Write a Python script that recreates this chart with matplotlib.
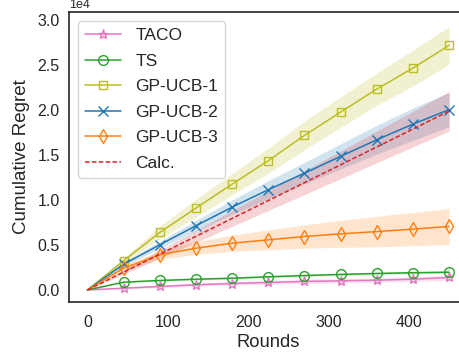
import matplotlib
matplotlib.use("Agg")
import matplotlib.pyplot as plt
import numpy as np
import seaborn as sns

sns.set_style("white")
plt.rcParams["font.family"] = ["Liberation Sans", "DejaVu Sans"]

rounds = [0, 45, 90, 135, 180, 225, 270, 315, 360, 405, 450]

taco = [0, 200, 390, 580, 720, 840, 950, 1020, 1090, 1200, 1390]
taco_sd = [0, 100, 150, 180, 200, 220, 240, 250, 270, 280, 300]

ts = [0, 870, 1060, 1200, 1310, 1470, 1610, 1730, 1840, 1920, 1980]
ts_sd = [0, 60, 80, 90, 100, 110, 110, 120, 120, 130, 130]

ucb1 = [0, 3250, 6400, 9110, 11780, 14390, 17200, 19800, 22360, 24700, 27230]
ucb1_sd = [0, 300, 700, 1000, 1200, 1400, 1600, 1700, 1800, 2000, 2100]

ucb2 = [0, 2870, 5030, 7150, 9220, 11160, 13000, 14870, 16720, 18460, 20070]
ucb2_sd = [0, 200, 400, 600, 800, 1000, 1200, 1400, 1600, 1800, 1900]

ucb3 = [0, 2430, 3920, 4650, 5210, 5580, 5950, 6250, 6500, 6770, 7070]
ucb3_sd = [0, 300, 500, 700, 900, 1100, 1300, 1500, 1700, 1850, 2000]

calc = [0, 1990, 3980, 5970, 7960, 9950, 11940, 13930, 15920, 17910, 19900]
calc_sd = [0, 220, 440, 660, 880, 1100, 1320, 1540, 1760, 1980, 2200]

series = [
    ("TACO", taco, taco_sd, "#e377c2", "*", 6.5),
    ("TS", ts, ts_sd, "#2ca02c", "o", 7),
    ("GP-UCB-1", ucb1, ucb1_sd, "#bcbd22", "s", 5.5),
    ("GP-UCB-2", ucb2, ucb2_sd, "#1f77b4", "x", 7),
    ("GP-UCB-3", ucb3, ucb3_sd, "#ff7f0e", "d", 7.5),
]

fig = plt.figure(figsize=(4.59, 3.52), dpi=100)
ax = fig.add_axes([0.151, 0.143, 0.867, 0.822])

x = np.array(rounds)
for name, y, sd, color, marker, ms in series:
    y = np.array(y)
    sd = np.array(sd)
    ax.fill_between(x, y - sd, y + sd, color=color, alpha=0.2, linewidth=0)
    ax.plot(x, y, color=color, marker=marker, markersize=ms, markevery=list(range(1, len(x))),
            markerfacecolor="none", markeredgewidth=1.0, linewidth=1.1, label=name)

c = np.array(calc)
csd = np.array(calc_sd)
ax.fill_between(x, c - csd, c + csd, color="#d62728", alpha=0.2, linewidth=0)
ax.plot(x, c, color="#d62728", linestyle=(0, (3, 1.5)), linewidth=1.1, label="Calc.")

ax.set_xlim(-22.5, 472.5)
ax.set_ylim(-1300, 30900)
ax.set_xticks([0, 100, 200, 300, 400])
ax.set_yticks([0, 5000, 10000, 15000, 20000, 25000, 30000])
ax.ticklabel_format(axis="y", style="sci", scilimits=(0, 0))
ax.yaxis.get_offset_text().set_fontsize(9)
ax.tick_params(labelsize=11.5)
ax.tick_params(axis="x", pad=6)
ax.set_xlabel("Rounds", fontsize=13.2, labelpad=3)
ax.set_ylabel("Cumulative Regret", fontsize=13.5, labelpad=5)
for s in ax.spines.values():
    s.set_color("0.15")
    s.set_linewidth(1.2)

ax.legend(loc="upper left", fontsize=12.5, handlelength=2.1, labelspacing=0.6,
          borderaxespad=0.5)

fig.savefig("out.png", dpi=100)
